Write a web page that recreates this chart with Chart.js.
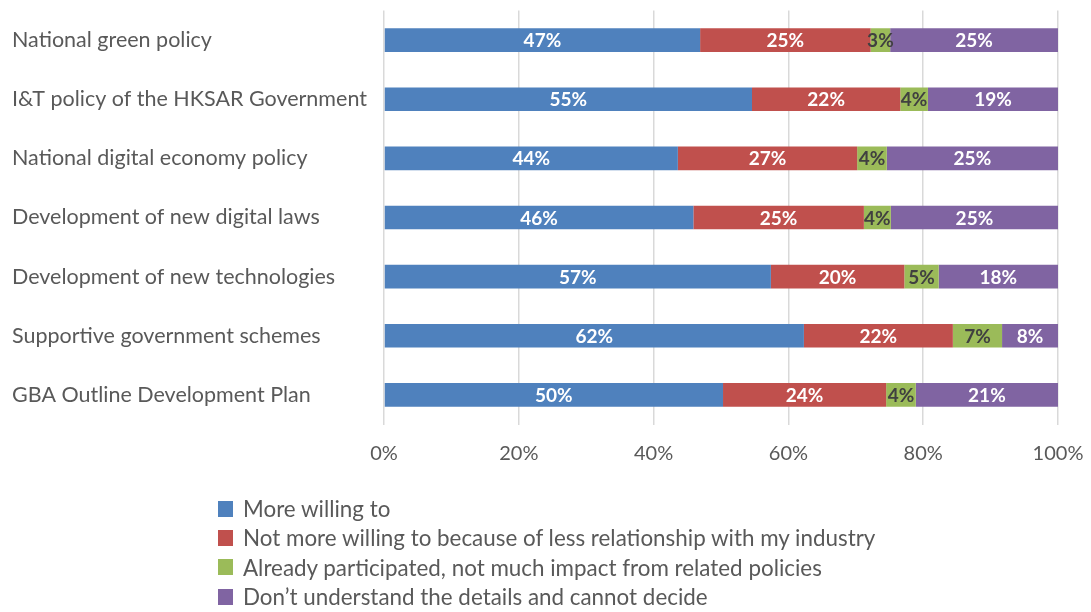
<!DOCTYPE html>
<html>
<head>
<meta charset="utf-8">
<script src="https://cdn.jsdelivr.net/npm/chart.js@4.4.0/dist/chart.umd.min.js"></script>
<style>
  html, body { margin: 0; padding: 0; background: #fff; }
  #wrap { position: relative; width: 1091px; height: 612px; }
  #legend { position: absolute; left: 218px; top: 494px; font-family: Lato, "Noto Sans", sans-serif; font-size: 22.4px; color: #595959; }
  .item { height: 29.3px; display: flex; align-items: center; white-space: nowrap; }
  .box { width: 15px; height: 16px; margin-right: 10px; box-sizing: border-box; }
</style>
</head>
<body>
<div id="wrap">
  <canvas id="c" width="1091" height="612"></canvas>
  <div id="legend"></div>
</div>
<script>
const categories = [
  "National green policy",
  "I&T policy of the HKSAR Government",
  "National digital economy policy",
  "Development of new digital laws",
  "Development of new technologies",
  "Supportive government schemes",
  "GBA Outline Development Plan"
];
const seriesNames = [
  "More willing to",
  "Not more willing to because of less relationship with my industry",
  "Already participated, not much impact from related policies",
  "Don\u2019t understand the details and cannot decide"
];
const moreWilling   = [46.9, 54.6, 43.6, 45.9, 57.4, 62.3, 50.3];
const notWilling    = [25.3, 22.0, 26.6, 25.3, 19.8, 22.1, 24.2];
const participated  = [2.9, 4.1, 4.4, 4.0, 5.1, 7.3, 4.4];
const dontKnow      = [24.9, 19.3, 25.4, 24.8, 17.7, 8.3, 21.1];
const xTicks = [0, 20, 40, 60, 80, 100];

const colors = ["#4F81BD", "#C0504D", "#9BBB59", "#8064A2"];
const labelColors = ["#ffffff", "#ffffff", "#404040", "#ffffff"];
const seriesData = [moreWilling, notWilling, participated, dontKnow];

const FONT = "Lato, 'Noto Sans', sans-serif";

const datasets = seriesData.map((d, i) => ({
  label: seriesNames[i],
  data: d,
  backgroundColor: colors[i],
  borderWidth: 0,
  barPercentage: 0.8,
  categoryPercentage: 0.5
}));

const labelPlugin = {
  id: 'barLabels',
  afterDatasetsDraw(chart) {
    const ctx = chart.ctx;
    ctx.save();
    ctx.font = "bold 19px " + FONT;
    ctx.textAlign = 'center';
    ctx.textBaseline = 'middle';
    chart.data.datasets.forEach((ds, di) => {
      const meta = chart.getDatasetMeta(di);
      ctx.fillStyle = labelColors[di];
      meta.data.forEach((el, i) => {
        const v = ds.data[i];
        const cx = (el.x + el.base) / 2;
        ctx.fillText(Math.round(v) + '%', cx, el.y + 1);
      });
    });
    ctx.restore();
  }
};

const chart = new Chart(document.getElementById('c'), {
  type: 'bar',
  data: { labels: categories, datasets: datasets },
  options: {
    indexAxis: 'y',
    responsive: false,
    animation: false,
    layout: { padding: { left: 12, right: 33, top: 10.5, bottom: 137.5 } },
    plugins: { legend: { display: false }, tooltip: { enabled: false } },
    scales: {
      x: {
        stacked: true,
        min: 0, max: 100,
        afterBuildTicks(scale) { scale.ticks = xTicks.map(v => ({ value: v })); },
        afterFit(scale) { scale.height = 50; scale.paddingLeft = 0; scale.paddingRight = 0; },
        ticks: {
          callback: v => v + '%',
          color: '#595959',
          font: { family: FONT, size: 20 },
          padding: 17
        },
        grid: { color: '#d9d9d9', lineWidth: 1.5, drawTicks: false },
        border: { display: false }
      },
      y: {
        stacked: true,
        afterFit(scale) { scale.width = 372; scale.paddingTop = 0; scale.paddingBottom = 0; },
        ticks: {
          crossAlign: 'far',
          color: '#595959',
          font: { family: FONT, size: 21.5 }
        },
        grid: { display: false },
        border: { display: false }
      }
    }
  },
  plugins: [labelPlugin]
});

const legend = document.getElementById('legend');
chart.data.datasets.forEach(ds => {
  const item = document.createElement('div');
  item.className = 'item';
  const box = document.createElement('span');
  box.className = 'box';
  box.style.background = ds.backgroundColor;
  const txt = document.createElement('span');
  txt.textContent = ds.label;
  item.appendChild(box);
  item.appendChild(txt);
  legend.appendChild(item);
});
</script>
</body>
</html>
